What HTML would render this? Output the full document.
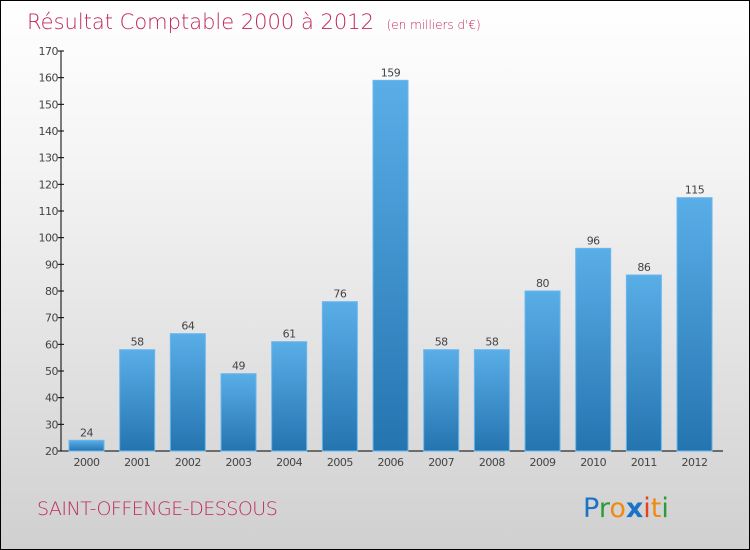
<!DOCTYPE html>
<html><head><meta charset="utf-8"><style>
body{margin:0}
#c{width:748px;height:548px;border:1px solid #000;background:linear-gradient(#ffffff,#f4f4f4 30%,#d0d0d0);position:relative;overflow:hidden;font-family:"DejaVu Sans","Liberation Sans",sans-serif}
</style></head><body>
<div id="c">
<svg width="748" height="548">
<defs><linearGradient id="g" x1="0" y1="0" x2="0" y2="1"><stop offset="0" stop-color="#5aaee8"/><stop offset="1" stop-color="#2474b0"/></linearGradient></defs>
<text x="26" y="28" font-size="21" fill="#c0285a" style="font-family:'DejaVu Sans',sans-serif;font-weight:200">Résultat Comptable 2000 à 2012 <tspan font-size="12" dx="6">(en milliers d'€)</tspan></text>
<g id="axes"></g><g id="bars"></g>
<text x="36" y="514" font-size="19" fill="#c0285a" style="font-weight:200" letter-spacing="-0.5">SAINT-OFFENGE-DESSOUS</text>
<g font-size="27" font-family="'DejaVu Sans',sans-serif">
<text x="582" y="516"><tspan fill="#1a73c8">P</tspan><tspan fill="#2a9a3a">r</tspan><tspan fill="#f08a10">o</tspan><tspan fill="#1a73c8" font-weight="bold">x</tspan><tspan fill="#e8401a">i</tspan><tspan fill="#f08a10">t</tspan><tspan fill="#2a9a3a">i</tspan></text></g>
</svg></div>
<script>
const years=["2000","2001","2002","2003","2004","2005","2006","2007","2008","2009","2010","2011","2012"];
const values=[24,58,64,49,61,76,159,58,58,80,96,86,115];
const ticks=[20,30,40,50,60,70,80,90,100,110,120,130,140,150,160,170];
const NS="http://www.w3.org/2000/svg";
const y=v=>450-(v-20)*(400/150);
const x=i=>85.5+i*50.67;
function mk(t,a,p){const e=document.createElementNS(NS,t);for(const k in a)e.setAttribute(k,a[k]);p.appendChild(e);return e;}
const ax=document.getElementById('axes'),bs=document.getElementById('bars');
let l=mk('line',{x1:60,y1:50,x2:60,y2:450,stroke:'#000'},ax);


l=mk('line',{x1:60,y1:450,x2:722,y2:450,stroke:'#000'},ax);


ticks.forEach(t=>{
 const tk=mk('line',{x1:57,x2:63,y1:y(t),y2:y(t),stroke:'#000'},ax);
 
 
 const tx=mk('text',{x:57,y:y(t)+4,'text-anchor':'end','font-size':11,fill:'#444','letter-spacing':'-0.5'},ax);
 tx.textContent=t;
 
 
});
years.forEach((yr,i)=>{
 const v=values[i];
 const r=mk('rect',{x:x(i)-17.5,y:y(v),width:35,height:450-y(v),fill:'url(#g)',stroke:'#6ab8ee','stroke-width':1},bs);
 
 
 const vt=mk('text',{x:x(i),y:y(v)-4,'text-anchor':'middle','font-size':11,fill:'#444','letter-spacing':'-0.5'},bs);
 vt.textContent=v;
 
 
 const xt=mk('text',{x:x(i),y:465,'text-anchor':'middle','font-size':11,fill:'#444','letter-spacing':'-0.5'},bs);
 xt.textContent=yr;
 
 
});
</script></body></html>
